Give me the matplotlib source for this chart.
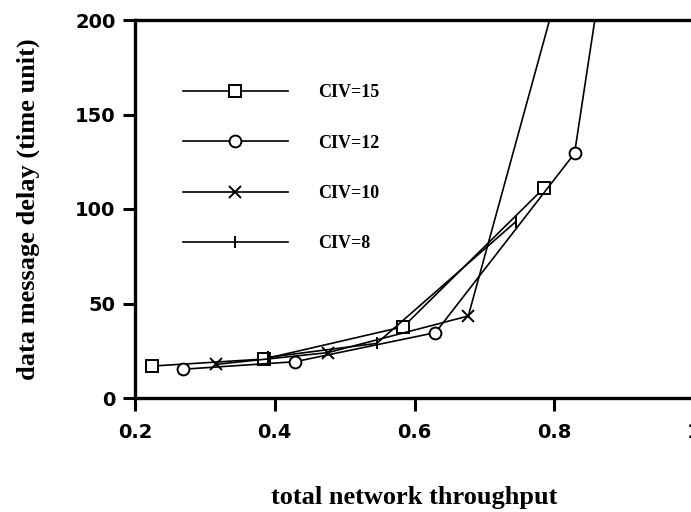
import matplotlib
matplotlib.use('Agg')
import matplotlib.pyplot as plt

# throughput / delay
civ15_x = [0.225, 0.384, 0.584, 0.785]
civ15_y = [16.9, 20.6, 37.7, 111.0]

civ12_x = [0.268, 0.429, 0.630, 0.829, 0.870]
civ12_y = [15.2, 19.2, 34.6, 129.4, 229.0]

civ10_x = [0.316, 0.476, 0.677, 0.820]
civ10_y = [17.8, 24.0, 43.4, 236.0]

civ8_x = [0.390, 0.546, 0.745]
civ8_y = [21.5, 28.9, 93.3]

labels = ['CIV=15', 'CIV=12', 'CIV=10', 'CIV=8']
xticks = [0.2, 0.4, 0.6, 0.8, 1.0]
xticklabels = ['0.2', '0.4', '0.6', '0.8', '1']
yticks = [0, 50, 100, 150, 200]

fig = plt.figure(figsize=(6.91, 5.12), dpi=100)
ax = fig.add_axes([135 / 691, 1 - 398 / 512, (694 - 135) / 691, (398 - 20) / 512])

lw = 1.2
ax.plot(civ15_x, civ15_y, color='black', lw=lw, marker='s', ms=8.5,
        mfc='white', mec='black', mew=1.4, label=labels[0])
ax.plot(civ12_x, civ12_y, color='black', lw=lw, marker='o', ms=8.5,
        mfc='white', mec='black', mew=1.4, label=labels[1])
ax.plot(civ10_x, civ10_y, color='black', lw=lw, marker='x', ms=8,
        mec='black', mew=1.4, label=labels[2])
ax.plot(civ8_x, civ8_y, color='black', lw=lw, marker='|', ms=9,
        mec='black', mew=1.4, label=labels[3])

ax.set_xlim(0.2, 1.0)
ax.set_ylim(0, 200)
ax.set_xticks(xticks)
ax.set_xticklabels(xticklabels)
ax.set_yticks(yticks)

for s in ax.spines.values():
    s.set_linewidth(2.4)
ax.spines['right'].set_visible(False)

ax.tick_params(direction='out', length=9, width=2.2, labelsize=14)
ax.tick_params(axis='x', pad=9)
ax.tick_params(axis='y', pad=5)
for t in ax.get_xticklabels() + ax.get_yticklabels():
    t.set_fontfamily('DejaVu Sans')
    t.set_fontweight('bold')

ax.set_xlabel('total network throughput', family='Liberation Serif',
              fontsize=19, fontweight='bold', labelpad=32)
ax.set_ylabel('data message delay (time unit)', family='Liberation Serif',
              fontsize=19, fontweight='bold', labelpad=25)

leg = ax.legend(loc='upper left', bbox_to_anchor=(0.086, 0.83), frameon=False,
                handlelength=5.8, handletextpad=1.7, labelspacing=1.85,
                borderpad=0, borderaxespad=0,
                prop={'family': 'Liberation Serif', 'weight': 'bold', 'size': 13})

fig.savefig('out.png', dpi=100)
